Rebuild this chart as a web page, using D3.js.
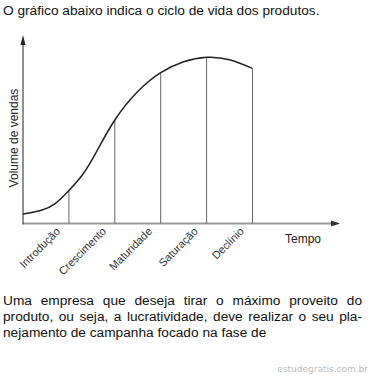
<!DOCTYPE html>
<html><head><meta charset="utf-8">
<script src="https://cdnjs.cloudflare.com/ajax/libs/d3/7.8.5/d3.min.js"></script>
<style>html,body{margin:0;padding:0;background:#fff;}svg{display:block;}</style>
</head><body>
<script>
const titleText = "O gráfico abaixo indica o ciclo de vida dos produtos.";
const phases = ["Introdução","Crescimento","Maturidade","Saturação","Declínio"];
const timePoints = [0, 0.4, 0.7, 1, 1.3, 1.6, 2, 2.5, 3, 3.5, 4, 4.5, 5];
const salesVolume = [5.0, 7.0, 10.5, 17.5, 26, 38, 54.9, 70, 80, 85.8, 88.2, 86.9, 82.3];
const boundaries = [1, 2, 3, 4, 5];
const xAxisLabel = "Tempo";
const yAxisLabel = "Volume de vendas";
const paragraphLines = [
  "Uma empresa que deseja tirar o máximo proveito do",
  "produto, ou seja, a lucratividade, deve realizar o seu pla-",
  "nejamento de campanha focado na fase de"
];
const watermark = "estudegratis.com.br";

const W = 370, H = 376;
const svg = d3.select("body").append("svg").attr("width", W).attr("height", H);
const font = "'Liberation Sans', Arial, sans-serif";

svg.append("text").attr("x", 3).attr("y", 15).attr("font-family", font).attr("font-size", 13.7)
  .attr("fill", "#111").text(titleText);

const x = d3.scaleLinear().domain([0, 5]).range([23, 252.5]);
const y = d3.scaleLinear().domain([0, 100]).range([223.5, 35]);

// axes
svg.append("line").attr("x1", x(0)).attr("x2", 338).attr("y1", y(0)).attr("y2", y(0))
  .attr("stroke", "#999").attr("stroke-width", 2);
svg.append("path").attr("d", `M${340},${y(0)} L${331},${y(0)-3} L${331},${y(0)+3}Z`).attr("fill", "#333");
svg.append("line").attr("x1", x(0)).attr("x2", x(0)).attr("y1", y(0)+1).attr("y2", 42)
  .attr("stroke", "#222").attr("stroke-width", 1);
svg.append("path").attr("d", `M${x(0)},35 L${x(0)-2.5},45 L${x(0)+2.5},45Z`).attr("fill", "#222");

// boundary lines
const data = timePoints.map((t, i) => ({t, v: salesVolume[i]}));
svg.selectAll("line.b").data(boundaries).enter().append("line").attr("class", "b")
  .attr("x1", d => x(d)).attr("x2", d => x(d))
  .attr("y1", y(0)).attr("y2", d => y(data.find(p => p.t === d).v))
  .attr("stroke", "#666").attr("stroke-width", 1);

// curve
const line = d3.line().x(d => x(d.t)).y(d => y(d.v)).curve(d3.curveNatural);
svg.append("path").datum(data).attr("d", line).attr("fill", "none").attr("stroke", "#222").attr("stroke-width", 1.5);

// phase labels
svg.selectAll("text.ph").data(phases).enter().append("text").attr("class", "ph")
  .attr("transform", (d, i) => `translate(${x(i + 0.5) + 15},${232}) rotate(-45)`)
  .attr("text-anchor", "end").attr("font-family", font).attr("font-size", 11).attr("fill", "#333")
  .text(d => d);

svg.append("text").attr("x", 285).attr("y", 243).attr("font-family", font).attr("font-size", 12)
  .attr("fill", "#222").text(xAxisLabel);

svg.append("text").attr("transform", `translate(18,138) rotate(-90)`).attr("text-anchor", "middle")
  .attr("font-family", font).attr("font-size", 12).attr("fill", "#222").text(yAxisLabel);

// paragraph, justified
const pLeft = 3, pRight = 362, baselines = [305, 321, 337];
paragraphLines.forEach((ln, li) => {
  const words = ln.split(" ");
  const g = svg.append("g");
  const nodes = words.map(w => g.append("text").attr("y", baselines[li]).attr("font-family", font)
    .attr("font-size", 13.7).attr("fill", "#111").text(w));
  const widths = nodes.map(n => n.node().getComputedTextLength());
  const total = d3.sum(widths);
  const justify = li < paragraphLines.length - 1;
  const gap = justify ? (pRight - pLeft - total) / (words.length - 1) : 3.8;
  let cx = pLeft;
  nodes.forEach((n, i) => { n.attr("x", cx); cx += widths[i] + gap; });
});

svg.append("text").attr("x", 368).attr("y", 372).attr("text-anchor", "end")
  .attr("font-family", "'DejaVu Sans', Verdana, sans-serif").attr("font-size", 9).attr("fill", "#bbb")
  .text(watermark);
</script>
</body></html>
